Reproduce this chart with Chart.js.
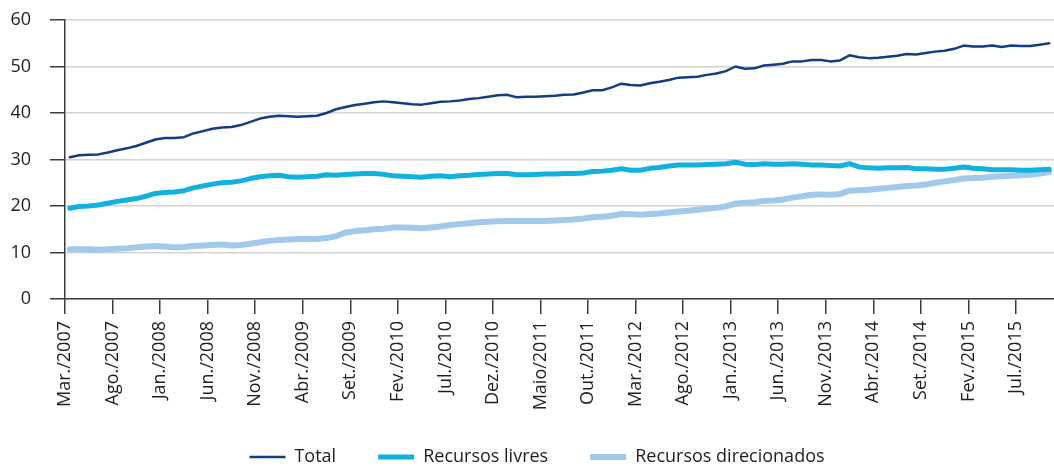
<!DOCTYPE html>
<html>
<head>
<meta charset="utf-8">
<script src="https://cdn.jsdelivr.net/npm/chart.js@4.4.0/dist/chart.umd.min.js"></script>
<style>
  html, body { margin: 0; padding: 0; background: #fff; }
  #wrap { width: 1054px; height: 466px; position: relative; }
</style>
</head>
<body>
<div id="wrap"><canvas id="creditChart"></canvas></div>
<script>
// meses: Mar/2007 .. Out/2015
const monthNames = ['Jan.', 'Fev.', 'Mar.', 'Abr.', 'Maio', 'Jun.', 'Jul.', 'Ago.', 'Set.', 'Out.', 'Nov.', 'Dez.'];
const months = [];
for (let y = 2007; y <= 2015; y++) {
    for (let m = 0; m < 12; m++) {
        if (y === 2007 && m < 2) continue;
        if (y === 2015 && m > 9) continue;
        months.push(monthNames[m] + '/' + y);
    }
}
const lastLabelIndex = 100; // Jul./2015

const total = [
    30.5, 30.9, 31.0, 31.1, 31.5, 32.0, 32.4, 32.9, 33.6, 34.3,
    34.6, 34.6, 34.8, 35.6, 36.1, 36.6, 36.9, 37.0, 37.4, 38.1,
    38.8, 39.2, 39.4, 39.3, 39.2, 39.3, 39.4, 40.0, 40.8, 41.3,
    41.7, 42.0, 42.3, 42.5, 42.3, 42.1, 41.9, 41.8, 42.1, 42.4,
    42.5, 42.7, 43.0, 43.2, 43.5, 43.8, 43.9, 43.4, 43.5, 43.5,
    43.6, 43.7, 43.9, 44.0, 44.4, 44.9, 44.9, 45.5, 46.3, 46.0,
    45.9, 46.4, 46.7, 47.1, 47.6, 47.7, 47.8, 48.2, 48.5, 49.0,
    50.0, 49.5, 49.6, 50.2, 50.4, 50.6, 51.1, 51.1, 51.4, 51.4,
    51.1, 51.3, 52.4, 52.0, 51.8, 51.9, 52.1, 52.3, 52.7, 52.6,
    52.9, 53.2, 53.4, 53.8, 54.5, 54.3, 54.3, 54.5, 54.2, 54.5,
    54.4, 54.4, 54.7, 55.0
];

const livres = [
    19.5, 19.9, 20.0, 20.2, 20.6, 21.0, 21.3, 21.6, 22.1, 22.7,
    22.9, 23.0, 23.3, 23.9, 24.3, 24.7, 25.0, 25.1, 25.4, 25.9,
    26.3, 26.5, 26.6, 26.3, 26.2, 26.3, 26.4, 26.7, 26.6, 26.8,
    26.9, 27.0, 27.0, 26.8, 26.5, 26.4, 26.3, 26.2, 26.4, 26.5,
    26.3, 26.5, 26.6, 26.8, 26.9, 27.0, 27.0, 26.7, 26.7, 26.8,
    26.9, 26.9, 27.0, 27.0, 27.1, 27.4, 27.5, 27.7, 28.0, 27.7,
    27.7, 28.1, 28.3, 28.6, 28.8, 28.8, 28.8, 28.9, 29.0, 29.1,
    29.4, 29.0, 28.9, 29.1, 29.0, 29.0, 29.1, 29.0, 28.8, 28.8,
    28.7, 28.6, 29.1, 28.4, 28.2, 28.1, 28.2, 28.2, 28.3, 28.0,
    28.0, 27.9, 27.9, 28.1, 28.4, 28.1, 28.0, 27.8, 27.8, 27.8,
    27.7, 27.7, 27.8, 27.9
];

const direcionados = [
    10.7, 10.7, 10.7, 10.6, 10.7, 10.8, 10.9, 11.1, 11.3, 11.4,
    11.3, 11.1, 11.2, 11.4, 11.5, 11.6, 11.7, 11.5, 11.6, 11.9,
    12.2, 12.5, 12.7, 12.8, 12.9, 12.9, 12.9, 13.1, 13.5, 14.3,
    14.6, 14.8, 15.0, 15.1, 15.4, 15.4, 15.3, 15.2, 15.4, 15.6,
    15.9, 16.1, 16.3, 16.5, 16.6, 16.7, 16.8, 16.8, 16.8, 16.8,
    16.8, 16.9, 17.0, 17.1, 17.3, 17.6, 17.7, 17.9, 18.3, 18.2,
    18.1, 18.3, 18.4, 18.6, 18.8, 19.0, 19.2, 19.4, 19.6, 19.9,
    20.5, 20.7, 20.8, 21.1, 21.2, 21.4, 21.8, 22.1, 22.4, 22.5,
    22.4, 22.6, 23.3, 23.4, 23.5, 23.7, 23.9, 24.1, 24.3, 24.4,
    24.6, 25.0, 25.3, 25.6, 25.9, 26.0, 26.1, 26.3, 26.4, 26.5,
    26.6, 26.7, 27.0, 27.3
];

const seriesNames = ['Total', 'Recursos livres', 'Recursos direcionados'];
const seriesColors = ['#143c85', '#12b0de', '#a2c8ec'];
const seriesWidths = [2.5, 5, 6];

// pontos no centro de cada mês, marcas nos limites
function toPoints(values) {
    return values.map((v, i) => ({ x: i + 0.5, y: v }));
}

const axisColor = '#3c3c3c';
const fontFamily = '"Open Sans", sans-serif';

// ajusta a posição da legenda
const legendShift = {
    id: 'legendShift',
    afterLayout(chart) {
        chart.legend.left += 10;
        chart.legend.right += 10;
        chart.legend.top -= 9;
        chart.legend.bottom -= 9;
    }
};

const ctx = document.getElementById('creditChart').getContext('2d');
new Chart(ctx, {
    type: 'line',
    data: {
        datasets: [total, livres, direcionados].map((vals, k) => ({
            label: seriesNames[k],
            data: toPoints(vals),
            borderColor: seriesColors[k],
            backgroundColor: seriesColors[k],
            borderWidth: seriesWidths[k],
            borderCapStyle: 'round',
            borderJoinStyle: 'round',
            pointRadius: 0,
            tension: 0,
            fill: false
        }))
    },
    options: {
        responsive: true,
        maintainAspectRatio: false,
        animation: false,
        layout: { padding: { left: 0, right: 0, top: 20, bottom: -19 } },
        scales: {
            x: {
                type: 'linear',
                min: 0,
                max: months.length,
                afterBuildTicks: axis => {
                    const ticks = [];
                    for (let i = 0; i <= lastLabelIndex; i += 5) ticks.push({ value: i });
                    axis.ticks = ticks;
                },
                afterFit: axis => { axis.height = 116; },
                ticks: {
                    autoSkip: false,
                    maxRotation: 90,
                    minRotation: 90,
                    padding: 7,
                    color: '#1e1e1e',
                    font: { family: fontFamily, size: 18 },
                    callback: value => months[value]
                },
                grid: {
                    drawOnChartArea: false,
                    tickLength: 15,
                    tickColor: axisColor,
                    lineWidth: 1.5
                },
                border: { color: axisColor, width: 1.5 }
            },
            y: {
                min: 0,
                max: 60,
                afterFit: axis => {
                    axis.width = 65;
                    axis.paddingTop = 0;
                    axis.paddingBottom = 0;
                },
                ticks: {
                    stepSize: 10,
                    padding: 19,
                    color: '#1e1e1e',
                    font: { family: fontFamily, size: 18 }
                },
                grid: {
                    color: '#d3d3d3',
                    lineWidth: 1.5,
                    tickLength: 15,
                    tickColor: axisColor
                },
                border: { color: axisColor, width: 1.5 }
            }
        },
        plugins: {
            legend: {
                position: 'bottom',
                labels: {
                    usePointStyle: true,
                    pointStyle: 'line',
                    pointStyleWidth: 36,
                    padding: 42,
                    color: '#1e1e1e',
                    font: { family: fontFamily, size: 18 }
                }
            },
            tooltip: { enabled: false }
        }
    },
    plugins: [legendShift]
});
</script>
</body>
</html>
